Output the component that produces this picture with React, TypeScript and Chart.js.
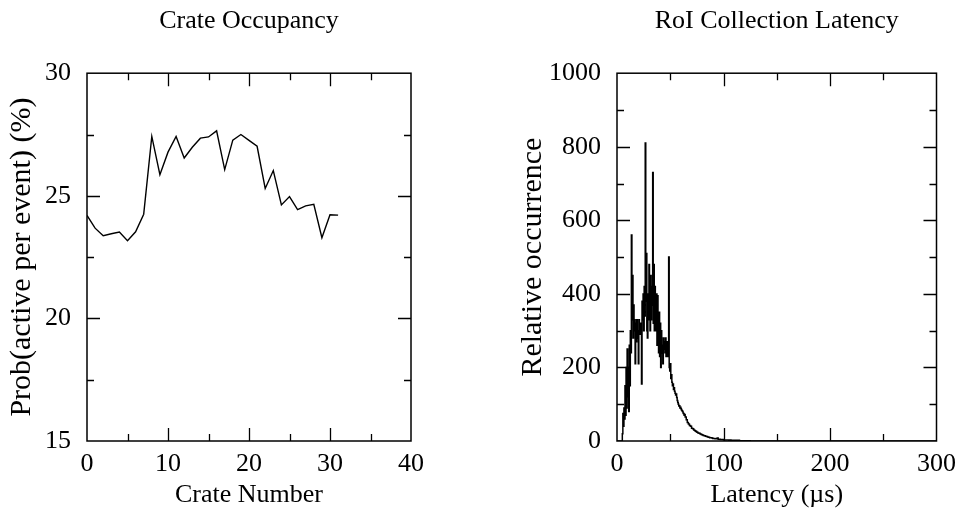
import React, { useEffect, useRef } from "react";
import { Chart, registerables } from "chart.js";

Chart.register(...registerables);

// ---------- Data ----------
const crateNumbers = [
  0, 1, 2, 3, 4, 5, 6, 7, 8, 9, 10, 11, 12, 13, 14, 15,
  16, 17, 18, 19, 20, 21, 22, 23, 24, 25, 26, 27, 28, 29, 30, 31,
];
const crateOccupancy = [
  24.2, 23.68, 23.37, 23.45, 23.52, 23.17, 23.53, 24.25, 27.42, 25.86, 26.78, 27.42, 26.54, 26.98, 27.35, 27.4,
  27.65, 26.07, 27.27, 27.5, 27.26, 27.02, 25.3, 26.03, 24.63, 24.97, 24.44, 24.59, 24.65, 23.29, 24.23, 24.21,
];

// Latency histogram: fine 0.5 µs bins from 0 to 64 µs
const latencyFineStart = 0; // µs
const latencyFineWidth = 0.5; // µs
const latencyFineCounts = [
  0, 0, 0, 0, 0, 0, 0, 0, 0, 0,
  0, 20, 75, 40, 90, 60, 150, 70, 200, 90,
  250, 120, 200, 80, 260, 150, 300, 240, 560, 330,
  450, 280, 370, 300, 330, 210, 320, 270, 330, 280,
  300, 210, 330, 300, 290, 320, 300, 155, 380, 330,
  400, 300, 420, 340, 810, 380, 510, 300, 280, 400,
  330, 480, 400, 300, 450, 330, 370, 420, 730, 320,
  480, 300, 420, 340, 300, 400, 260, 395, 300, 240,
  350, 230, 320, 200, 300, 240, 260, 210, 280, 250,
  270, 240, 280, 230, 260, 270, 230, 250, 500, 200,
  190, 210, 170, 180, 160, 150, 155, 140, 145, 135,
  130, 125, 128, 118, 110, 105, 100, 95, 96, 90,
  92, 88, 84, 82, 80, 76, 74, 70,
];
// Coarse 1 µs bins from 64 to 127 µs
const latencyTailStart = 64; // µs
const latencyTailWidth = 1; // µs
const latencyTailCounts = [
  72, 65, 58, 50, 46, 42, 40, 35, 33, 30,
  28, 26, 24, 22, 21, 19, 18, 16, 15, 14,
  13, 12, 11, 10, 9, 9, 8, 7, 7, 6,
  6, 8, 5, 5, 4, 4, 4, 3, 3, 3,
  3, 3, 2, 3, 2, 2, 2, 2, 2, 2,
  1, 2, 1, 1, 1, 1, 1, 1, 1, 1,
  1, 1, 0,
];
const latencyEnd = 300; // µs

// ---------- Styles ----------
const FONT = "'Liberation Serif', 'Times New Roman', serif";

type TickSpec = { xMinor: number; xMajor: number; yMinor: number; yMajor: number };

const frameTicksPlugin = {
  id: "frameTicks",
  afterDatasetsDraw(chart: any, _args: any, opts: TickSpec) {
    const { ctx, chartArea, scales } = chart;
    const { left, right, top, bottom } = chartArea;
    const xs = scales.x;
    const ys = scales.y;
    ctx.save();
    ctx.strokeStyle = "#000";
    ctx.lineWidth = 1.5;
    ctx.strokeRect(left, top, right - left, bottom - top);
    ctx.lineWidth = 1.3;
    const MAJ = 13;
    const MIN = 7;
    const eps = 1e-6;
    ctx.beginPath();
    for (let v = xs.min; v <= xs.max + eps; v += opts.xMinor) {
      if (v <= xs.min + eps || v >= xs.max - eps) continue;
      const px = Math.round(xs.getPixelForValue(v)) + 0.5;
      const isMaj = Math.abs(v / opts.xMajor - Math.round(v / opts.xMajor)) < 1e-6;
      const len = isMaj ? MAJ : MIN;
      ctx.moveTo(px, bottom);
      ctx.lineTo(px, bottom - len);
      ctx.moveTo(px, top);
      ctx.lineTo(px, top + len);
    }
    for (let v = ys.min; v <= ys.max + eps; v += opts.yMinor) {
      if (v <= ys.min + eps || v >= ys.max - eps) continue;
      const py = Math.round(ys.getPixelForValue(v)) + 0.5;
      const isMaj = Math.abs(v / opts.yMajor - Math.round(v / opts.yMajor)) < 1e-6;
      const len = isMaj ? MAJ : MIN;
      ctx.moveTo(left, py);
      ctx.lineTo(left + len, py);
      ctx.moveTo(right, py);
      ctx.lineTo(right - len, py);
    }
    ctx.stroke();
    ctx.restore();
  },
};

function makeOptions(p: {
  title: string;
  xTitle: string;
  yTitle: string;
  xMin: number; xMax: number; xStep: number;
  yMin: number; yMax: number; yStep: number;
  yAxisWidth: number;
  yTitlePad: number;
  padRight: number;
  ticks: TickSpec;
}) {
  return {
    responsive: false,
    animation: false,
    devicePixelRatio: 1,
    layout: { padding: { left: 0, right: p.padRight, top: 0, bottom: 0 } },
    plugins: {
      legend: { display: false },
      tooltip: { enabled: false },
      title: {
        display: true,
        text: p.title,
        fullSize: false,
        color: "#000",
        font: { family: FONT, size: 26, weight: "normal" },
        padding: { top: 6, bottom: 36 },
      },
      frameTicks: p.ticks,
    },
    scales: {
      x: {
        type: "linear",
        min: p.xMin,
        max: p.xMax,
        grid: { display: false, drawTicks: false },
        border: { display: false },
        ticks: {
          stepSize: p.xStep,
          color: "#000",
          font: { family: FONT, size: 26 },
          padding: 8,
          maxRotation: 0,
          callback: (v: number) => String(v),
        },
        title: {
          display: true,
          text: p.xTitle,
          color: "#000",
          font: { family: FONT, size: 26 },
          padding: { top: 0, bottom: 0 },
        },
        afterFit(scale: any) {
          scale.height = 70;
        },
      },
      y: {
        type: "linear",
        min: p.yMin,
        max: p.yMax,
        grid: { display: false, drawTicks: false },
        border: { display: false },
        ticks: {
          stepSize: p.yStep,
          color: "#000",
          font: { family: FONT, size: 26 },
          padding: 16,
          callback: (v: number) => String(v),
        },
        title: {
          display: true,
          text: p.yTitle,
          color: "#000",
          font: { family: FONT, size: 30 },
          padding: { top: p.yTitlePad, bottom: 0 },
        },
        afterFit(scale: any) {
          scale.width = p.yAxisWidth;
        },
      },
    },
  } as any;
}

function OccupancyChart() {
  const ref = useRef<HTMLCanvasElement | null>(null);
  useEffect(() => {
    if (!ref.current) return;
    const chart = new Chart(ref.current, {
      type: "line",
      data: {
        datasets: [
          {
            data: crateNumbers.map((c, i) => ({ x: c, y: crateOccupancy[i] })),
            borderColor: "#000",
            borderWidth: 1.4,
            pointRadius: 0,
            tension: 0,
            fill: false,
          },
        ],
      },
      options: makeOptions({
        title: "Crate Occupancy",
        xTitle: "Crate Number",
        yTitle: "Prob(active per event) (%)",
        xMin: 0, xMax: 40, xStep: 10,
        yMin: 15, yMax: 30, yStep: 5,
        yAxisWidth: 87,
        yTitlePad: 4,
        padRight: 71,
        ticks: { xMinor: 5, xMajor: 10, yMinor: 2.5, yMajor: 5 },
      }),
      plugins: [frameTicksPlugin],
    });
    return () => chart.destroy();
  }, []);
  return <canvas ref={ref} width={482} height={511} />;
}

function LatencyChart() {
  const ref = useRef<HTMLCanvasElement | null>(null);
  useEffect(() => {
    if (!ref.current) return;
    const pts: { x: number; y: number }[] = [];
    latencyFineCounts.forEach((c, i) => pts.push({ x: latencyFineStart + i * latencyFineWidth, y: c }));
    latencyTailCounts.forEach((c, i) => pts.push({ x: latencyTailStart + i * latencyTailWidth, y: c }));
    pts.push({ x: latencyEnd, y: 0 });
    const chart = new Chart(ref.current, {
      type: "line",
      data: {
        datasets: [
          {
            data: pts,
            borderColor: "#000",
            borderWidth: 1.5,
            pointRadius: 0,
            stepped: "after",
            fill: false,
          },
        ],
      },
      options: makeOptions({
        title: "RoI Collection Latency",
        xTitle: "Latency (µs)",
        yTitle: "Relative occurrence",
        xMin: 0, xMax: 300, xStep: 100,
        yMin: 0, yMax: 1000, yStep: 200,
        yAxisWidth: 135,
        yTitlePad: 33,
        padRight: 24,
        ticks: { xMinor: 50, xMajor: 100, yMinor: 100, yMajor: 200 },
      }),
      plugins: [frameTicksPlugin],
    });
    return () => chart.destroy();
  }, []);
  return <canvas ref={ref} width={482} height={511} />;
}

export default function App() {
  return (
    <div
      style={{
        position: "absolute",
        left: 0,
        top: 0,
        width: 964,
        height: 511,
        background: "#fff",
        display: "flex",
      }}
    >
      <div style={{ width: 482, height: 511 }}>
        <OccupancyChart />
      </div>
      <div style={{ width: 482, height: 511 }}>
        <LatencyChart />
      </div>
    </div>
  );
}
